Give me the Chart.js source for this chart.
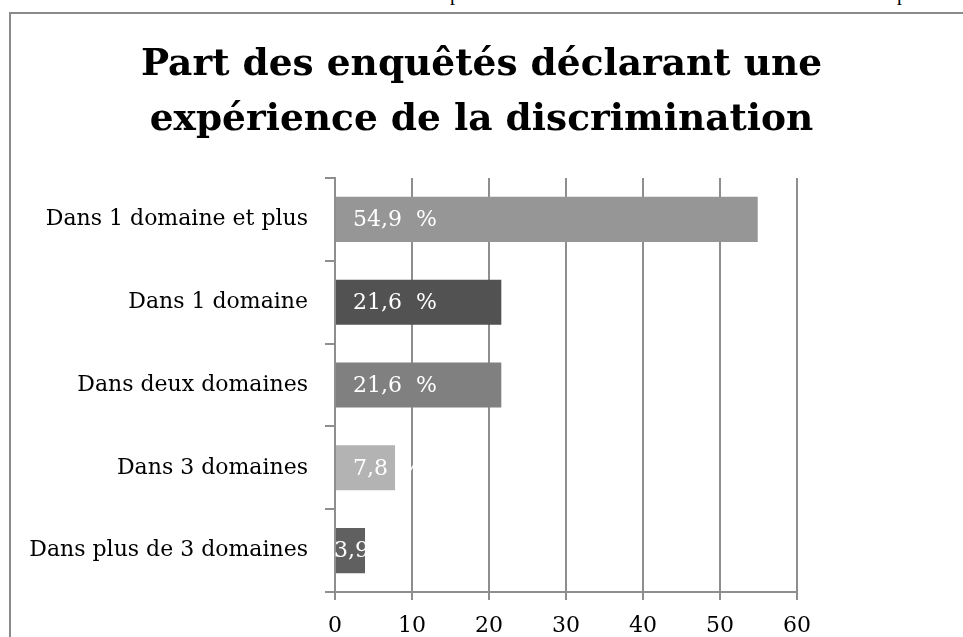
<!DOCTYPE html>
<html>
<head>
<meta charset="utf-8">
<script src="https://cdn.jsdelivr.net/npm/chart.js@4/dist/chart.umd.min.js"></script>
<style>
  html, body { margin: 0; padding: 0; background: #fff; overflow: hidden; }
  #wrap { position: relative; width: 963px; height: 637px; }
  #frame { position: absolute; left: 9px; top: 12px; width: 1000px; height: 700px;
           border-top: 2px solid #8a8a8a; border-left: 2px solid #8a8a8a; box-sizing: border-box; }
  .frag { position: absolute; font-family: "Liberation Serif", serif; font-size: 20px; line-height: 20px; color: #000; }
  canvas { position: absolute; left: 0; top: 0; }
</style>
</head>
<body>
<div id="wrap">
  <span class="frag" style="left:450px; top:-17px;">p</span>
  <span class="frag" style="left:897px; top:-17px;">p</span>
  <div id="frame"></div>
  <canvas id="c" width="963" height="637"></canvas>
</div>
<script>
const categories = ["Dans 1 domaine et plus", "Dans 1 domaine", "Dans deux domaines", "Dans 3 domaines", "Dans plus de 3 domaines"];
const values = [54.9, 21.6, 21.6, 7.8, 3.9];
const barColors = ["#969696", "#525252", "#808080", "#b3b3b3", "#606060"];
const xTicks = [0, 10, 20, 30, 40, 50, 60];
const titleLines = ["Part des enquêtés déclarant une", "expérience de la discrimination"];

const FONT = "'DejaVu Serif', serif";
const GRID = "#8e8e8e";

const barLabels = {
  id: "barLabels",
  afterDatasetsDraw(chart) {
    const ctx = chart.ctx;
    const meta = chart.getDatasetMeta(0);
    ctx.save();
    ctx.font = "22px " + FONT;
    ctx.fillStyle = "#ffffff";
    ctx.textBaseline = "middle";
    ctx.textAlign = "left";
    meta.data.forEach((el, i) => {
      const txt = values[i].toFixed(1).replace(".", ",") + "  %";
      const w = el.x - el.base;
      const tx = w < 50 ? el.base - 2 : el.base + 17;
      ctx.fillText(txt, tx, el.y + 1);
    });
    ctx.restore();
  }
};

new Chart(document.getElementById("c"), {
  type: "bar",
  data: {
    labels: categories,
    datasets: [{
      data: values,
      backgroundColor: barColors,
      borderWidth: 0,
      barPercentage: 0.545,
      categoryPercentage: 1.0
    }]
  },
  options: {
    indexAxis: "y",
    responsive: false,
    animation: false,
    devicePixelRatio: 1,
    layout: { padding: 0 },
    plugins: {
      legend: { display: false },
      tooltip: { enabled: false },
      title: {
        display: true,
        text: titleLines,
        color: "#000",
        font: { family: FONT, size: 37.5, weight: "bold", lineHeight: 55 / 37.5 },
        padding: { top: 38, bottom: 30 }
      }
    },
    scales: {
      x: {
        min: 0, max: 60,
        afterBuildTicks(scale) { scale.ticks = xTicks.map(v => ({ value: v })); },
        afterFit(scale) { scale.height = 45; },
        grid: { color: GRID, lineWidth: 2, drawTicks: true, tickLength: 8, tickColor: GRID },
        border: { display: true, color: GRID, width: 2 },
        ticks: { color: "#000", font: { family: FONT, size: 22, lineHeight: 1 }, padding: 15, maxRotation: 0 }
      },
      y: {
        afterFit(scale) { scale.width = 335; },
        grid: { display: true, drawOnChartArea: false, drawTicks: true, tickLength: 10, tickColor: GRID, color: GRID, lineWidth: 2, offset: true },
        border: { display: true, color: GRID, width: 2 },
        ticks: { color: "#000", font: { family: FONT, size: 22 }, padding: 17 }
      },
      spacer: {
        type: "linear",
        axis: "y",
        position: "right",
        display: true,
        afterFit(scale) { scale.width = 166; },
        grid: { display: false },
        border: { display: false },
        ticks: { display: false }
      }
    }
  },
  plugins: [barLabels]
});
</script>
</body>
</html>
